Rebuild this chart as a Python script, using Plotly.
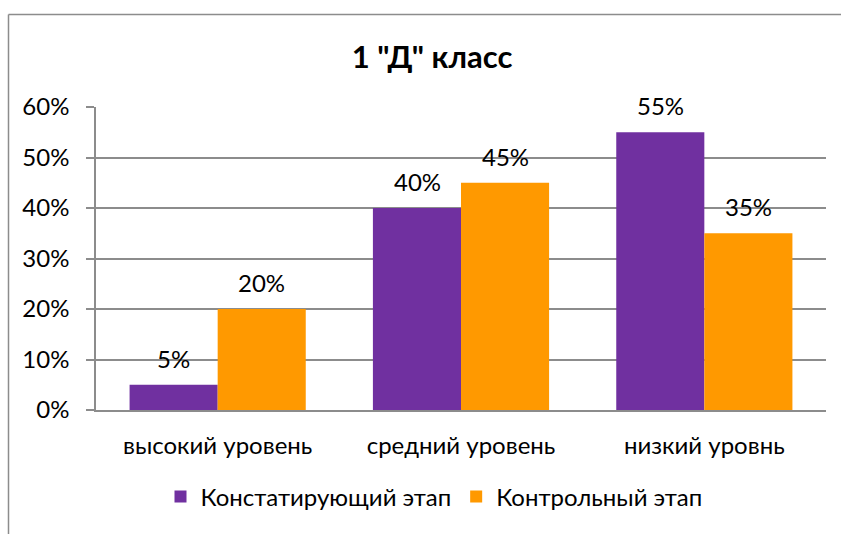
import plotly.graph_objects as go

# Data
categories = ["высокий уровень", "средний уровень", "низкий уровнь"]
series_names = ["Констатирующий этап", "Контрольный этап"]
stage1 = [5, 40, 55]
stage2 = [20, 45, 35]
colors = ["#7030A0", "#FF9900"]

FONT = "Lato"
FS = 24
W, H = 841, 534
ml, mr, mt, mb = 96, 15, 107, 124

fig = go.Figure()
for name, vals, col in zip(series_names, [stage1, stage2], colors):
    fig.add_trace(go.Bar(x=categories, y=vals, name=name, marker_color=col,
                         marker_line_width=0))

# data labels above the bars
annotations = []
for vals, shift in zip([stage1, stage2], [-44, 44]):
    for cat, v in zip(categories, vals):
        annotations.append(dict(x=cat, y=v, xref="x", yref="y", text=f"{v}%",
                                showarrow=False, xshift=shift, yanchor="bottom",
                                yshift=10, font=dict(family=FONT, size=FS, color="#000000")))

# outer chart frame (only left and top edges visible in the crop)
pw, ph = W - ml - mr, H - mt - mb
fx = (8.5 - ml) / pw
fy = (H - mb - 14.5) / ph
frame = dict(color="#8C8C8C", width=1.5)
shapes = [
    dict(type="line", xref="paper", yref="paper", x0=fx, x1=fx, y0=-1, y1=fy, line=frame),
    dict(type="line", xref="paper", yref="paper", x0=fx, x1=1.2, y0=fy, y1=fy, line=frame),
]

fig.update_layout(
    width=W, height=H,
    margin=dict(l=ml, r=mr, t=mt, b=mb),
    paper_bgcolor="white", plot_bgcolor="white",
    barmode="group", bargap=0.276, bargroupgap=0,
    title=dict(text="<b>1 \"Д\" класс</b>", x=(432 - ml) / pw, xref="paper", xanchor="center",
               y=1 - 57 / H, yanchor="middle",
               font=dict(family=FONT, size=31, color="#000000")),
    font=dict(family=FONT, size=FS, color="#000000"),
    legend=dict(orientation="h", x=(434 - ml) / pw, xref="paper", xanchor="center",
                y=(H - mb - 497) / ph, yanchor="middle",
                font=dict(family=FONT, size=FS)),
    annotations=annotations,
    shapes=shapes,
    showlegend=True,
)
fig.update_yaxes(range=[0, 60], dtick=10, ticksuffix="%", showgrid=True,
                 gridcolor="#8C8C8C", gridwidth=1.5, showline=True,
                 linecolor="#8C8C8C", linewidth=1.5, ticks="outside", ticklen=8,
                 tickcolor="#8C8C8C", tickwidth=1.5, ticklabelstandoff=12,
                 zeroline=False, tickfont=dict(family=FONT, size=FS))
fig.update_xaxes(showline=True, linecolor="#8C8C8C", linewidth=1.5, ticks="",
                 tickfont=dict(family=FONT, size=FS), ticklabelstandoff=13)

fig.write_html("out.html", config={"displayModeBar": False},
               post_script="document.body.style.margin='0';")
